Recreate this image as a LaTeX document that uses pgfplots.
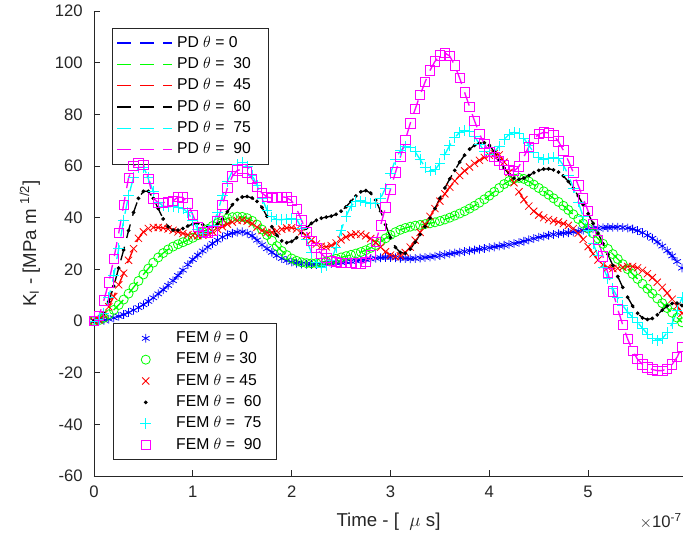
\documentclass[border=0pt]{standalone}
\usepackage{fontspec}
\setmainfont{Liberation Sans}
\usepackage{pgfplots}
\pgfplotsset{compat=1.18}
\usepackage{pgfplotstable}
\definecolor{axgray}{rgb}{0.15,0.15,0.15}
\definecolor{mblue}{rgb}{0,0,1}
\definecolor{mgreen}{rgb}{0,1,0}
\definecolor{mred}{rgb}{1,0,0}
\definecolor{mcyan}{rgb}{0,1,1}
\definecolor{mmag}{rgb}{1,0,1}
\pgfplotstableread{
t a0 a30 a45 a60 a75 a90
0.00 0 0 0 0 0 0
0.05 0.1 0.3 0.5 0.5 0.5 2.0
0.10 0.3 1.2 2.5 3.0 3.0 8.0
0.15 0.7 2.6 5.5 7.5 9.0 15.0
0.20 1.2 4.3 9.5 13.5 17.5 24.0
0.25 1.8 6.2 14.0 20.5 28.0 34.0
0.30 2.5 8.3 18.5 27.5 39.0 45.0
0.35 3.3 10.6 23.5 35.0 48.5 55.5
0.40 4.2 13.0 28.0 42.0 55.5 60.0
0.45 5.2 15.5 32.0 47.5 59.5 61.3
0.50 6.3 18.0 34.5 50.2 59.5 60.5
0.55 7.6 20.3 35.8 50.2 55.5 55.0
0.60 9.0 22.6 36.2 47.5 50.0 47.5
0.65 10.5 24.6 36.2 43.5 46.0 45.8
0.70 12.1 26.3 36.0 39.5 44.5 45.8
0.75 13.8 27.7 35.6 36.5 44.2 46.1
0.80 15.6 28.8 35.1 35.2 44.2 46.5
0.85 17.6 29.7 34.5 35.2 44.0 48.0
0.90 19.7 30.5 33.9 35.8 43.5 47.8
0.95 21.8 31.3 33.4 36.8 42.0 45.5
1.00 23.8 32.2 33.1 37.5 39.0 41.0
1.05 25.5 33.2 33.0 37.8 35.5 36.5
1.10 27.1 34.4 33.2 37.3 34.0 34.5
1.15 28.6 35.6 33.7 36.5 34.5 34.3
1.20 30.0 36.8 34.5 36.5 37.0 35.0
1.25 31.3 37.9 35.5 37.5 42.0 38.5
1.30 32.5 38.9 36.5 39.5 48.5 45.0
1.35 33.4 39.7 37.5 42.3 54.0 51.5
1.40 34.0 40.2 38.3 45.0 58.0 56.0
1.45 34.4 40.4 38.9 47.0 60.5 58.3
1.50 34.5 40.3 39.1 48.0 61.3 58.8
1.55 34.0 39.8 38.7 48.2 60.0 57.5
1.60 33.0 38.8 37.7 47.6 56.5 55.0
1.65 31.3 37.3 36.3 46.3 52.5 52.0
1.70 29.5 35.4 35.0 44.0 47.5 49.5
1.75 28.0 33.3 34.3 40.5 43.0 48.0
1.80 26.6 31.1 34.3 36.5 40.3 47.6
1.85 25.3 29.0 34.8 33.2 39.3 47.8
1.90 24.2 27.1 35.5 31.0 39.2 48.1
1.95 23.4 25.5 36.0 30.3 39.5 47.8
2.00 22.8 24.2 36.1 30.8 39.8 46.5
2.05 22.4 23.3 35.6 32.2 39.5 43.5
2.10 22.1 22.7 34.5 34.0 36.0 39.0
2.15 22.0 22.4 33.0 36.0 31.4 34.5
2.20 21.9 22.3 31.3 37.8 26.5 31.0
2.25 21.9 22.4 29.8 39.0 22.5 28.3
2.30 22.0 22.7 28.9 39.8 20.8 26.0
2.35 22.1 23.1 28.7 40.2 21.5 24.3
2.40 22.3 23.6 29.2 40.6 23.5 23.3
2.45 22.5 24.1 30.2 41.3 28.5 22.8
2.50 22.7 24.6 31.4 42.5 35.0 22.6
2.55 22.9 25.1 32.5 44.2 40.5 22.5
2.60 23.1 25.6 33.3 46.3 44.5 22.4
2.65 23.3 26.1 33.7 48.4 46.3 22.3
2.70 23.6 26.7 33.6 50.0 46.5 22.3
2.75 23.8 27.4 33.0 50.5 46.0 22.8
2.80 24.0 28.3 31.9 49.5 45.5 25.5
2.85 24.3 29.4 30.4 46.8 45.7 30.5
2.90 24.5 30.7 28.6 42.5 47.5 37.0
2.95 24.6 32.0 26.8 37.3 51.5 44.0
3.00 24.6 33.3 25.5 32.3 57.0 51.0
3.05 24.5 34.4 24.9 28.5 62.5 57.5
3.10 24.3 35.3 25.2 26.5 66.0 63.5
3.15 24.2 36.0 26.5 26.2 67.5 70.0
3.20 24.1 36.5 28.6 27.8 67.3 76.5
3.25 24.2 36.9 31.3 30.5 65.5 82.0
3.30 24.4 37.2 34.3 33.5 62.5 87.5
3.35 24.6 37.5 37.4 36.5 59.5 92.5
3.40 24.8 37.8 40.5 39.8 58.0 97.0
3.45 25.1 38.2 43.5 43.5 58.5 100.5
3.50 25.4 38.7 46.4 47.5 61.0 102.8
3.55 25.7 39.3 49.2 51.5 64.5 103.8
3.60 26.0 40.0 51.8 55.0 68.0 102.5
3.65 26.3 40.8 54.2 58.3 71.0 99.0
3.70 26.6 41.6 56.3 61.5 73.0 94.0
3.75 26.9 42.5 58.1 64.2 73.7 88.5
3.80 27.2 43.5 59.6 66.5 73.3 83.0
3.85 27.5 44.6 61.0 68.0 71.5 77.5
3.90 27.8 45.8 62.2 68.8 68.5 72.5
3.95 28.1 47.1 63.3 69.0 65.8 68.5
4.00 28.4 48.5 64.2 68.0 64.5 65.5
4.05 28.7 50.0 64.8 65.5 65.3 63.5
4.10 29.0 51.5 64.3 62.3 67.7 62.0
4.15 29.3 53.0 61.5 59.2 70.3 60.5
4.20 29.6 54.2 57.5 56.8 72.2 58.5
4.25 30.0 55.1 53.5 55.3 73.0 58.0
4.30 30.4 55.4 50.0 54.8 72.5 59.8
4.35 30.9 55.0 47.0 55.3 70.7 63.5
4.40 31.4 54.0 44.5 56.3 68.0 67.5
4.45 31.9 52.8 42.5 57.4 65.2 70.5
4.50 32.4 51.5 41.0 58.3 63.2 72.3
4.55 32.8 50.2 40.0 58.8 62.5 73.0
4.60 33.2 48.9 39.3 58.9 63.0 72.8
4.65 33.5 47.5 38.8 58.5 63.5 71.8
4.70 33.8 46.1 38.3 57.6 62.8 69.5
4.75 34.0 44.6 37.7 56.1 60.3 66.0
4.80 34.2 43.0 37.0 54.0 56.5 62.0
4.85 34.5 41.3 35.8 51.4 51.5 57.5
4.90 34.8 39.5 34.0 48.4 46.0 52.5
4.95 35.1 37.7 31.6 45.0 40.3 47.5
5.00 35.4 35.8 28.8 41.5 35.0 42.5
5.05 35.7 33.9 26.0 37.8 30.0 37.5
5.10 35.9 31.9 23.6 34.0 25.3 31.5
5.15 36.1 29.9 21.8 30.0 20.8 25.0
5.20 36.2 27.9 20.7 25.8 16.5 18.5
5.25 36.3 25.9 20.3 21.5 12.5 11.5
5.30 36.3 24.0 20.4 17.2 9.0 4.5
5.35 36.2 22.0 20.8 13.0 6.0 -1.5
5.40 36.0 20.1 21.1 9.2 3.5 -7.0
5.45 35.6 18.2 21.1 5.8 1.5 -11.5
5.50 35.0 16.3 20.6 3.0 -0.5 -14.8
5.55 34.2 14.4 19.6 1.2 -2.8 -16.8
5.60 33.2 12.5 18.3 0.6 -5.0 -18.0
5.65 32.0 10.6 16.8 1.0 -6.8 -18.8
5.70 30.6 8.7 15.0 2.4 -7.5 -19.2
5.75 29.0 6.9 13.0 4.2 -6.8 -19.2
5.80 27.2 5.0 10.8 5.8 -4.5 -18.5
5.85 25.2 3.2 8.4 6.8 -1.0 -16.8
5.90 23.0 1.3 5.8 6.9 4.0 -14.0
5.95 20.5 -0.5 3.0 6.0 9.0 -10.0
}\kdata
\pgfplotsset{
  common/.style={
    scale only axis, width=441.75pt, height=348.75pt,
    at={(0pt,0pt)}, anchor=south west,
    xmin=0, xmax=5.96, ymin=-60, ymax=120,
  },
  pd/.style={line width=1pt, dash pattern=on 10.5pt off 6.75pt},
  fem/.style={only marks, line width=0.6pt},
  legbox/.style={legend style={draw=axgray, line width=0.5pt,
     font=\fontsize{11.8}{13}\selectfont, inner xsep=3pt, inner ysep=4pt, row sep=2pt,
     nodes={inner sep=1.5pt, text height=8.5pt, text depth=2.5pt}},
     legend cell align=left},
}
\begin{document}
\begin{tikzpicture}
\begin{axis}[common, name=ax, legbox,
  axis x line*=bottom, axis y line*=left,
  axis line style={axgray, line width=0.5pt},
  every tick/.style={axgray, line width=0.5pt},
  tick align=inside, major tick length=4.5pt,
  xtick={0,1,2,3,4,5}, ytick={-60,-40,-20,0,20,40,60,80,100,120},
  /pgf/number format/assume math mode=true,
  tick label style={font=\fontsize{12.5}{14}\selectfont, text=axgray},
  xticklabel style={yshift=-4pt},
  yticklabel style={xshift=-5pt},
  xlabel={Time - [\ \ $\mu$ s]},
  ylabel={K\textsubscript{I} - [MPa m \textsuperscript{1/2}]},
  label style={font=\fontsize{14}{16}\selectfont, text=axgray},
  xlabel style={at={(axis description cs:0.5,-0.099)}, anchor=center},
  ylabel style={at={(axis description cs:-0.109,0.5)}, anchor=center},
  legend style={at={(0.0306,0.9634)}, anchor=north west},
  legend image code/.code={\path (0pt,0pt) (43pt,0pt); \draw[#1] (0pt,0pt) -- (41.25pt,0pt);},
]
\addplot[mblue, pd] table[x=t,y=a0]{\kdata};
\addlegendentry{PD $\theta$ = 0}
\addplot[mgreen, pd] table[x=t,y=a30]{\kdata};
\addlegendentry{PD $\theta$ = \ 30\rule{9pt}{0pt}}
\addplot[mred, pd] table[x=t,y=a45]{\kdata};
\addlegendentry{PD $\theta$ = \ 45}
\addplot[black, pd] table[x=t,y=a60]{\kdata};
\addlegendentry{PD $\theta$ = \ 60}
\addplot[mcyan, pd] table[x=t,y=a75]{\kdata};
\addlegendentry{PD $\theta$ = \ 75}
\addplot[mmag, pd] table[x=t,y=a90]{\kdata};
\addlegendentry{PD $\theta$ = \ 90}
\end{axis}
\begin{axis}[common, hide axis, legbox,
  legend style={at={(0.0323,0.0344)}, anchor=south west},
  legend image code/.code={\path (0pt,0pt) (42pt,0pt); \draw[#1] plot coordinates {(21pt,0pt)};},
]
\addplot[mblue, fem, mark=asterisk, mark size=3.3pt] table[x=t,y=a0]{\kdata};
\addlegendentry{FEM $\theta$ = 0}
\addplot[mgreen, fem, mark=o, mark size=3.4pt] table[x=t,y=a30]{\kdata};
\addlegendentry{FEM $\theta$ = 30}
\addplot[mred, fem, mark=x, mark size=3.8pt] table[x=t,y=a45]{\kdata};
\addlegendentry{FEM $\theta$ = 45}
\addplot[black, fem, mark=*, mark size=1.1pt] table[x=t,y=a60]{\kdata};
\addlegendentry{FEM $\theta$ = \ 60}
\addplot[mcyan, fem, mark=+, mark size=4pt] table[x=t,y=a75]{\kdata};
\addlegendentry{FEM $\theta$ = \ 75}
\addplot[mmag, fem, mark=square, mark size=3.5pt] table[x=t,y=a90]{\kdata};
\addlegendentry{FEM $\theta$ = \ 90\rule{7pt}{0pt}}
\end{axis}
\node[anchor=east, inner sep=0pt, font=\fontsize{12.5}{14}\selectfont, text=axgray] at (441pt,-34pt) {$\times$10\textsuperscript{-7}};
\pgfresetboundingbox
\path[use as bounding box] (-70.5pt,-47.25pt) rectangle (441.75pt,357pt);
\end{tikzpicture}
\end{document}
